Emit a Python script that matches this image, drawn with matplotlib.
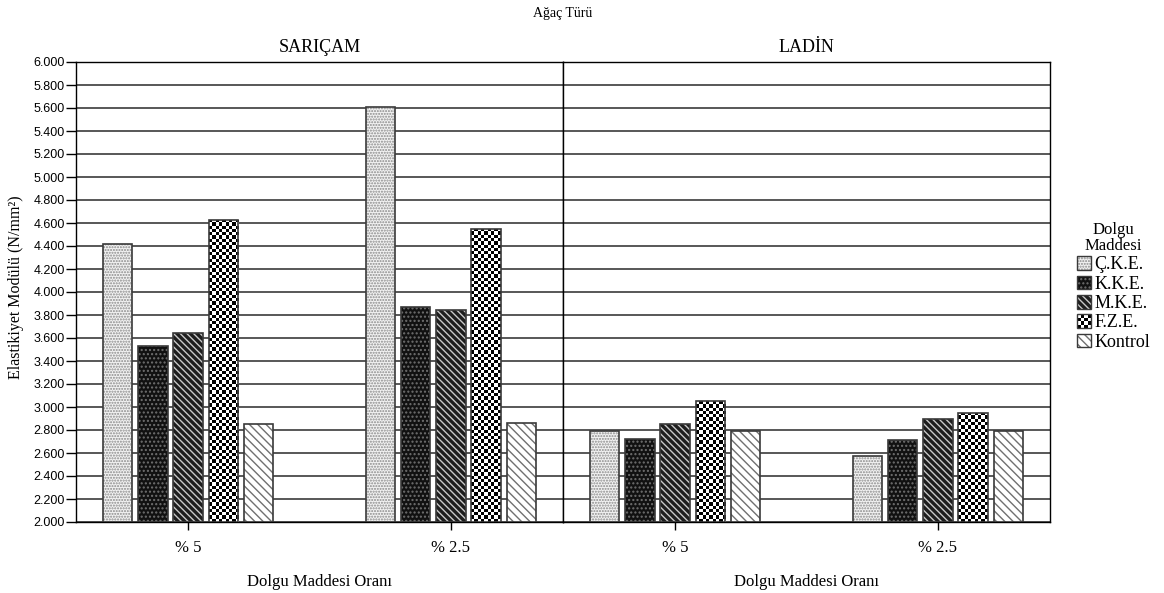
import numpy as np
import matplotlib.pyplot as plt
from matplotlib.patches import Patch, Rectangle
from matplotlib.legend_handler import HandlerBase
from matplotlib.colors import ListedColormap

plt.rcParams['font.family'] = ['Liberation Serif', 'DejaVu Serif']
plt.rcParams['hatch.linewidth'] = 1.0

# veriler
agac = ['SARIÇAM', 'LADİN']
oran = ['% 5', '% 2.5']
dolgu = ['Ç.K.E.', 'K.K.E.', 'M.K.E.', 'F.Z.E.', 'Kontrol']

sari_5 = [4.42, 3.53, 3.64, 4.63, 2.85]
sari_25 = [5.61, 3.87, 3.84, 4.55, 2.86]
ladin_5 = [2.79, 2.72, 2.85, 3.05, 2.79]
ladin_25 = [2.57, 2.71, 2.90, 2.95, 2.79]

veri = {'SARIÇAM': [sari_5, sari_25], 'LADİN': [ladin_5, ladin_25]}

yticks = np.arange(2.0, 6.001, 0.2)
ytick_labels = ['%.3f' % v for v in yticks]

# desenler: (zemin, tarama, tarama rengi)
desen = [('#f2f2f2', '......', '#8a8a8a'),
         ('#111111', '....', '#707070'),
         ('#1e1e1e', '\\\\\\\\\\', '#c8c8c8'),
         ('checker', None, None),
         ('#ffffff', '\\\\\\\\', '#707070')]

kenar = '#3a3a3a'
checker_cmap = ListedColormap(['white', 'black'])


def dama(ax, bar, hucre_px=3.3):
    # damali (satranc) desen, cubugun icine kirpilmis
    x0, y0 = bar.get_x(), bar.get_y()
    w, h = bar.get_width(), bar.get_height()
    p = ax.transData.transform([(x0, y0), (x0 + w, y0 + h)])
    nx = max(1, int(round((p[1, 0] - p[0, 0]) / hucre_px)))
    ny = max(1, int(round((p[1, 1] - p[0, 1]) / hucre_px)))
    img = np.indices((ny, nx)).sum(0) % 2
    im = ax.imshow(img, cmap=checker_cmap, extent=(x0, x0 + w, y0, y0 + h),
                   origin='lower', interpolation='nearest', aspect='auto', zorder=3)
    im.set_clip_path(bar)


fig, axes = plt.subplots(1, 2, figsize=(11.64, 5.93), dpi=100, sharey=True)
fig.subplots_adjust(left=76 / 1164, right=1050 / 1164, top=1 - 62 / 593,
                    bottom=1 - 522 / 593, wspace=0)

x = np.arange(len(oran))
adim = 0.134
genislik = 0.112

for ax, ad in zip(axes, agac):
    ax.set_xlim(-0.426, 1.426)
    ax.set_ylim(2.0, 6.0)
    ax.set_yticks(yticks)
    ax.yaxis.grid(True, color='#4a4a4a', lw=1.3)
    ax.set_axisbelow(True)
    for s in ax.spines.values():
        s.set_color('black')
        s.set_linewidth(1.0)

for ax, ad in zip(axes, agac):
    seriler = np.array(veri[ad]).T  # dolgu x oran
    for i, d in enumerate(dolgu):
        xs = x + (i - 2) * adim
        yuk = seriler[i] - 2.0
        face, hatch, hc = desen[i]
        if face == 'checker':
            bars = ax.bar(xs, yuk, genislik, bottom=2.0, color='white', lw=0, zorder=2)
            for b in bars:
                dama(ax, b)
        else:
            ax.bar(xs, yuk, genislik, bottom=2.0, facecolor=face, hatch=hatch,
                   edgecolor=hc, lw=0, zorder=2)
        ax.bar(xs, yuk, genislik, bottom=2.0, fill=False, edgecolor=kenar,
               lw=1.2, zorder=4)

    ax.set_xticks(x)
    ax.set_xticklabels(oran, fontsize=12)
    ax.tick_params(axis='x', length=6, width=1, pad=7)
    ax.set_xlabel('Dolgu Maddesi Oranı', fontsize=12, labelpad=13)
    ax.set_title(ad, fontsize=13, pad=7)

axes[0].set_yticklabels(ytick_labels, family=['Liberation Sans', 'DejaVu Sans'],
                        fontsize=9)
axes[0].tick_params(axis='y', length=7, width=1, pad=1)
axes[1].tick_params(axis='y', length=0)

fig.text(16 / 1164, 1 - 287 / 593, 'Elastikiyet Modülü (N/mm²)', rotation=90,
         ha='center', va='center', fontsize=11.5)
fig.text(563 / 1164, 1 - 13 / 593, 'Ağaç Türü', ha='center', va='center', fontsize=10)


# lejant
class DesenHandler(HandlerBase):
    def __init__(self, stil):
        super().__init__()
        self.stil = stil

    def create_artists(self, legend, orig_handle, xdescent, ydescent, width, height,
                       fontsize, trans):
        face, hatch, hc = self.stil
        x0, y0 = -xdescent, -ydescent
        parcalar = []
        if face == 'checker':
            n = 4
            cw, ch = width / n, height / n
            parcalar.append(Rectangle((x0, y0), width, height, facecolor='white',
                                      lw=0, transform=trans))
            for r in range(n):
                for c in range(n):
                    if (r + c) % 2 == 0:
                        parcalar.append(Rectangle((x0 + c * cw, y0 + r * ch), cw, ch,
                                                  facecolor='black', lw=0, transform=trans))
        else:
            parcalar.append(Rectangle((x0, y0), width, height, facecolor=face,
                                      hatch=hatch, edgecolor=hc, lw=0, transform=trans))
        parcalar.append(Rectangle((x0, y0), width, height, fill=False,
                                  edgecolor=kenar, lw=1.0, transform=trans))
        return parcalar


handles = [Patch(label=d) for d in dolgu]
hmap = {h: DesenHandler(st) for h, st in zip(handles, desen)}
leg = fig.legend(handles=handles, labels=dolgu, handler_map=hmap,
                 loc='upper left', bbox_to_anchor=(1077 / 1164, 1 - 222 / 593),
                 frameon=False, fontsize=13, title='Dolgu\nMaddesi', title_fontsize=12,
                 handlelength=0.8, handleheight=0.8, handletextpad=0.15,
                 labelspacing=0.12, borderpad=0, borderaxespad=0)
leg.get_title().set_multialignment('center')
leg.get_title().set_linespacing(1.0)

fig.savefig('out.png', dpi=100)
